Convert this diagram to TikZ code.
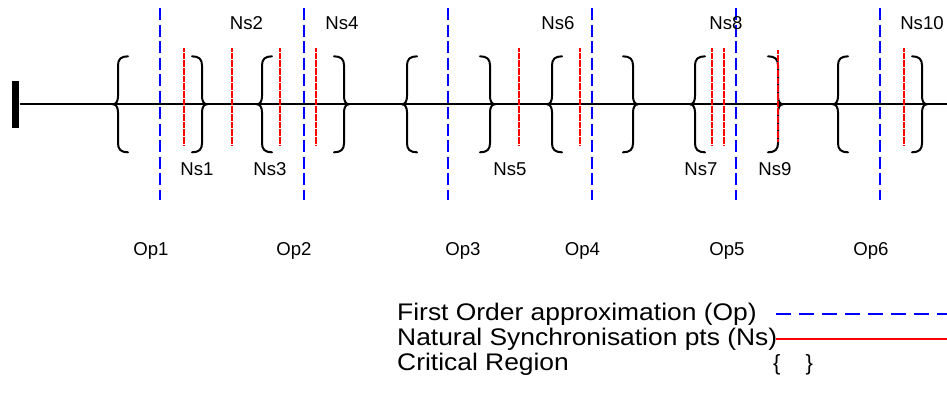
\documentclass[tikz,border=0pt]{standalone}
\usepackage{fontspec}
\setmainfont{Liberation Sans}
\begin{document}
\begin{tikzpicture}[x=1pt,y=-1pt,
  axis/.style={line width=2pt},
  approx/.style={blue, line width=2.4pt, dash pattern=on 12pt off 4.5pt},
  approxkey/.style={blue, line width=2pt, dash pattern=on 15pt off 8pt},
  natsync/.style={red, line width=1.5pt, dash pattern=on 0.8pt off 0.35pt},
  crit/.style={line width=2pt, line cap=round, line join=round},
  lab/.style={anchor=base, inner sep=0pt, font=\fontsize{18.6}{22}\selectfont},
  legend/.style={anchor=base west, inner sep=0pt, font=\fontsize{24}{28}\selectfont, xscale=1.1},
  lbr/.pic={\draw[crit] (15,-48) .. controls (8,-48) and (5,-45) .. (5,-39)
      -- (5,-8) .. controls (5,-3) and (3,0) .. (0,0)
      .. controls (3,0) and (5,3) .. (5,8) -- (5,39)
      .. controls (5,45) and (8,48) .. (15,48);}
]
\useasboundingbox (0,0) rectangle (947,392);

% time axis with its starting bar
\node[fill, inner sep=0pt, minimum width=7pt, minimum height=47pt] (start) at (15.8,104.3) {};
\coordinate (axisend) at (947,104.3);
\draw[axis] (start.east) -- (axisend);

% critical regions
\foreach \t in {113,257,402,547,690,833}
  \pic at (\t,104.3) {lbr};
\foreach \t in {207,349,495,638,783,927}
  \pic[xscale=-1] at (\t,104.3) {lbr};

% natural synchronisation points
\foreach \x in {184,232,280,316,519,580,712,724,904}
  \draw[natsync] (\x,48) -- (\x,145);
\draw[natsync] (778,50) -- (778,142);

% first order approximation points
\foreach \x in {160,304,448,592,736,880}
  \draw[approx] (\x,8) -- (\x,200);

% labels
\node[lab] (ns1) at (197,175) {Ns1};
\node[lab] (ns2) at (246.5,29) {Ns2};
\node[lab] (ns3) at (270,175) {Ns3};
\node[lab] (ns4) at (342,29) {Ns4};
\node[lab] (ns5) at (510,175) {Ns5};
\node[lab] (ns6) at (558,29) {Ns6};
\node[lab] (ns7) at (701,175) {Ns7};
\node[lab] (ns8) at (726,29) {Ns8};
\node[lab] (ns9) at (775,175) {Ns9};
\node[lab] (ns10) at (922,29) {Ns10};

\node[lab] (op1) at (151,255) {Op1};
\node[lab] (op2) at (294,255) {Op2};
\node[lab] (op3) at (463,255) {Op3};
\node[lab] (op4) at (582.5,255) {Op4};
\node[lab] (op5) at (727,255) {Op5};
\node[lab] (op6) at (871,255) {Op6};

% key
\node[legend] (k1) at (397,320) {First Order approximation (Op)};
\node[legend] (k2) at (397,345) {Natural Synchronisation pts (Ns)};
\node[legend] (k3) at (397,370) {Critical Region};
\coordinate (k1a) at (776,314);
\coordinate (k1b) at (947,314);
\coordinate (k2a) at (776,339);
\coordinate (k2b) at (947,339);
\draw[approxkey] (k1a) -- (k1b);
\draw[natsync, line width=1.2pt, dash pattern=on 0.6pt off 0.4pt] (k2a) -- (k2b);
\node[anchor=base west, inner sep=0pt, font=\fontsize{22}{26}\selectfont] (k3s) at (773,370) {\{\hspace{25pt}\}};
\end{tikzpicture}
\end{document}
